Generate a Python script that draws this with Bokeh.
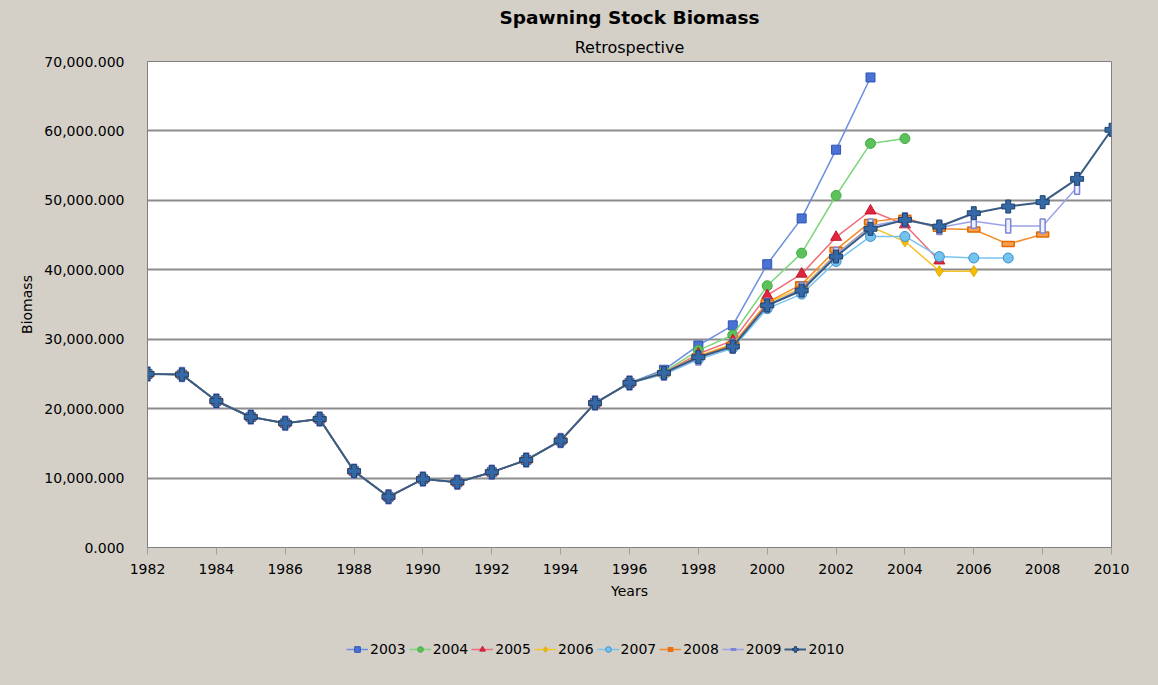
from bokeh.plotting import figure
from bokeh.layouts import column
from bokeh.models import (Title, Legend, LegendItem, FixedTicker, NumeralTickFormatter,
                          ColumnDataSource, Range1d)
from bokeh.embed import file_html
from bokeh.resources import INLINE

# ---------------- data ----------------
years_common = [1982, 1983, 1984, 1985, 1986, 1987, 1988, 1989, 1990, 1991,
                1992, 1993, 1994, 1995, 1996, 1997]
ssb_common = [25000, 24900, 21100, 18800, 17900, 18500, 11000, 7300, 9850, 9400,
              10850, 12600, 15400, 20800, 23700, 25150]

tail_2003 = [25600, 29100, 32000, 40800, 47400, 57300, 67700]
tail_2004 = [25300, 28400, 30600, 37700, 42400, 50700, 58200, 58900]
tail_2005 = [25150, 27900, 29800, 36300, 39400, 44700, 48500, 46500, 41300]
tail_2006 = [25100, 27600, 29300, 35200, 37400, 42300, 46200, 44100, 39800, 39800]
tail_2007 = [24900, 27100, 28700, 34400, 36500, 41200, 44800, 44800, 41900, 41700, 41700]
tail_2008 = [25100, 27500, 29200, 35300, 37900, 42900, 46900, 47500, 45900, 45800, 43700, 45100]
tail_2009 = [25100, 27300, 29000, 34900, 37200, 42200, 46300, 47200, 46100, 47000, 46300, 46300, 51900]
tail_2010 = [25150, 27400, 28950, 34860, 37020, 41910, 45900, 47190, 46230, 48150, 49110, 49740, 53100, 60160]

series_names = ["2003", "2004", "2005", "2006", "2007", "2008", "2009", "2010"]
series_tails = [tail_2003, tail_2004, tail_2005, tail_2006, tail_2007, tail_2008, tail_2009, tail_2010]

x_ticks = [1982, 1984, 1986, 1988, 1990, 1992, 1994, 1996, 1998, 2000, 2002, 2004, 2006, 2008, 2010]
y_ticks = [0, 10000, 20000, 30000, 40000, 50000, 60000, 70000]

# ---------------- styles ----------------
styles = {
    "2003": dict(line="#6C8EE0", marker="square", fill="#4A72D6", outline="#2E55B0", size=9),
    "2004": dict(line="#7CD67C", marker="circle", fill="#5BC25B", outline="#44A844", size=10),
    "2005": dict(line="#F06A78", marker="triangle", fill="#E0263C", outline="#C01830", size=11),
    "2006": dict(line="#F7C42A", marker="diamond", fill="#F5BE00", outline="#E0A800", size=11),
    "2007": dict(line="#78C4F0", marker="circle", fill="#74C2F0", outline="#3C90C8", size=10),
    "2008": dict(line="#F58A2A", marker="rect_h", fill="#F8A050", outline="#E06A00", size=0),
    "2009": dict(line="#9AA2E8", marker="rect_v", fill="#EEF0FC", outline="#7C84D8", size=0),
    "2010": dict(line="#3A5C84", marker="plus", fill="#3468A6", outline="#22426A", size=13),
}

FONT = "DejaVu Sans"
BG = "#D4D0C8"

# ---------------- main chart ----------------
p = figure(frame_width=964, frame_height=486, output_backend="svg", toolbar_location=None,
           title=None, x_range=Range1d(1982, 2010), y_range=Range1d(0, 70000),
           min_border_left=147, min_border_right=47, min_border_top=61, min_border_bottom=80,
           background_fill_color="white", border_fill_color=BG)
p.outline_line_color = "#808080"
p.outline_line_width = 1

p.add_layout(Title(text="Retrospective", align="center", text_font=FONT,
                   text_font_size="16px", text_font_style="normal", text_color="#000000",
                   standoff=9), "above")
p.add_layout(Title(text="Spawning Stock Biomass", align="center", text_font=FONT,
                   text_font_size="18.5px", text_font_style="bold", text_color="#000000",
                   standoff=7), "above")

p.xaxis.ticker = FixedTicker(ticks=x_ticks)
p.yaxis.ticker = FixedTicker(ticks=y_ticks)
p.yaxis.formatter = NumeralTickFormatter(format="0,0.000")
p.xaxis.axis_label = "Years"
p.yaxis.axis_label = "Biomass"
for ax in (p.xaxis[0], p.yaxis[0]):
    ax.axis_label_text_font = FONT
    ax.axis_label_text_font_size = "14px"
    ax.axis_label_text_font_style = "normal"
    ax.axis_label_text_color = "#000000"
    ax.major_label_text_font = FONT
    ax.major_label_text_font_size = "14px"
    ax.major_label_text_color = "#000000"
    ax.axis_line_color = "#808080"
    ax.major_tick_line_color = "#A0A0A0"
    ax.minor_tick_line_color = None
    ax.major_tick_in = 0
p.xaxis.major_tick_out = 7
p.yaxis.major_tick_out = 0
p.xaxis.major_label_standoff = 9
p.xaxis.axis_label_standoff = 6
p.yaxis.major_label_standoff = 23
p.yaxis.axis_label_standoff = 6

p.xgrid.grid_line_color = None
p.ygrid.grid_line_color = "#8C8C8C"
p.ygrid.grid_line_width = 2

# ---------------- legend strip ----------------
q = figure(width=1158, height=58, output_backend="svg", toolbar_location=None,
           x_range=Range1d(0, 1), y_range=Range1d(0, 1), min_border=0,
           background_fill_color=BG, background_fill_alpha=0, border_fill_color=BG)
q.outline_line_color = None
q.axis.visible = False
q.grid.visible = False

legend_items = []
for name, tail in zip(series_names, series_tails):
    end_year = int(name)
    yrs = years_common + list(range(1998, end_year + 1))
    vals = ssb_common[:-1] + tail
    src = ColumnDataSource(dict(x=yrs, y=vals))
    st = styles[name]
    lw = 2 if name == "2010" else 1.5
    p.line("x", "y", source=src, line_color=st["line"], line_width=lw)
    # legend-only renderers (placed outside the strip's visible range)
    l_line = q.line([-5, -4], [-5, -5], line_color=st["line"], line_width=lw)
    if st["marker"] == "rect_h":
        p.rect("x", "y", width=12, height=5, width_units="screen", height_units="screen",
               source=src, fill_color=st["fill"], line_color=st["outline"], line_width=1.5)
        l_mark = q.scatter([-5], [-5], marker="dash", size=12, line_color="#E87010",
                           line_width=5)
    elif st["marker"] == "rect_v":
        p.rect("x", "y", width=5, height=14, width_units="screen", height_units="screen",
               source=src, fill_color=st["fill"], line_color=st["outline"], line_width=1.5)
        l_mark = q.scatter([-5], [-5], marker="dash", angle=1.5708, size=14,
                           line_color=st["outline"], line_width=3)
    else:
        p.scatter("x", "y", source=src, marker=st["marker"], size=st["size"],
                  fill_color=st["fill"], line_color=st["outline"], line_width=1)
        l_mark = q.scatter([-5], [-5], marker=st["marker"], size=st["size"],
                           fill_color=st["fill"], line_color=st["outline"], line_width=1)
    legend_items.append(LegendItem(label=name, renderers=[l_line, l_mark]))

legend = Legend(items=legend_items, orientation="horizontal", location=(199, 28),
                background_fill_alpha=0, border_line_color=None,
                label_text_font=FONT, label_text_font_size="14px", label_text_color="#000000",
                glyph_width=22, glyph_height=14, label_standoff=2, spacing=3,
                padding=0, margin=0)
q.add_layout(legend, "center")

layout = column(p, q, spacing=0, styles={"background-color": BG})
open("out.html", "w").write(file_html(layout, INLINE))
